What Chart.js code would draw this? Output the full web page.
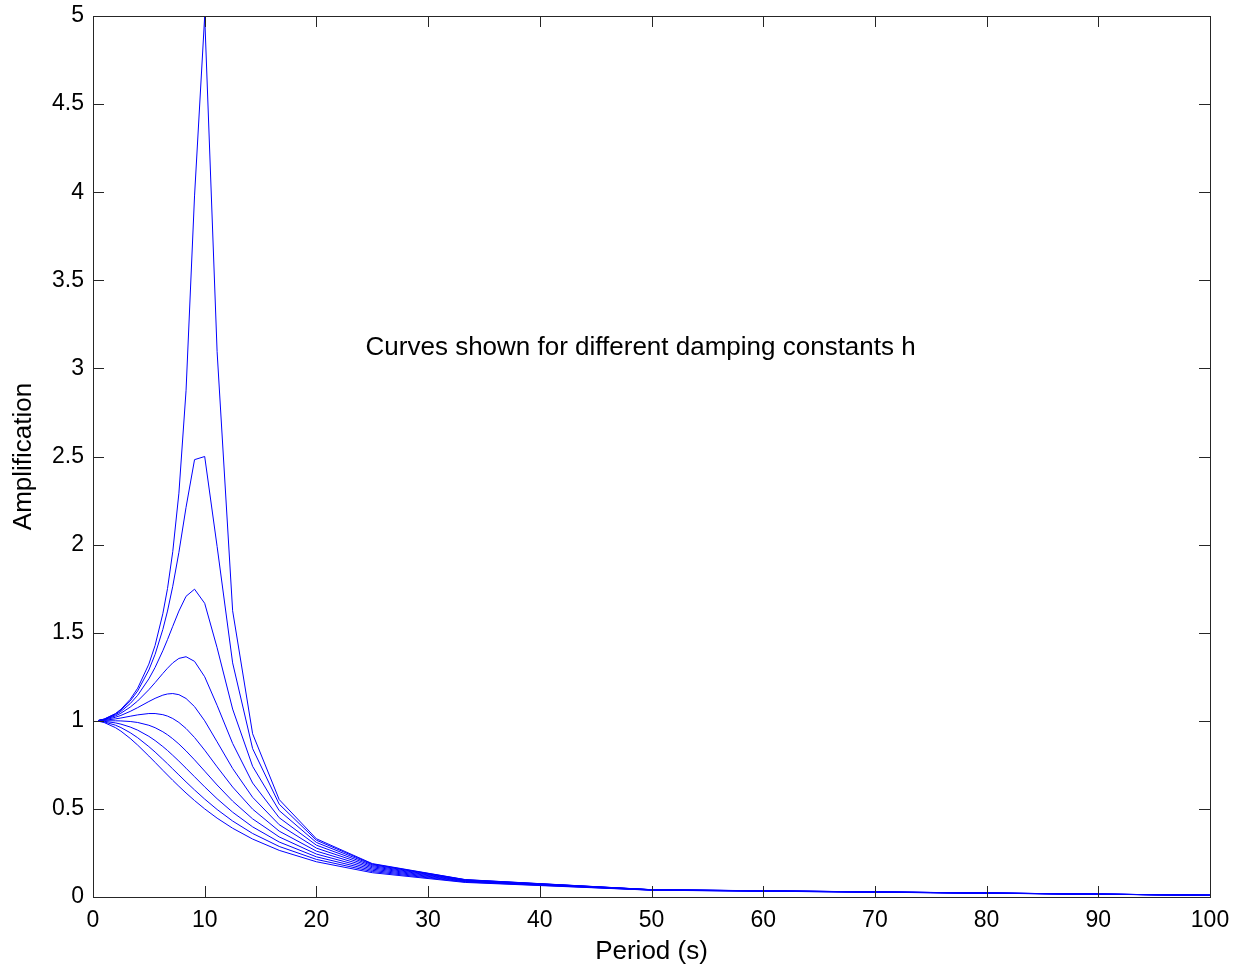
<!DOCTYPE html>
<html>
<head>
<meta charset="utf-8">
<script src="https://cdn.jsdelivr.net/npm/chart.js@4/dist/chart.umd.min.js"></script>
<style>
  html, body { margin: 0; padding: 0; background: #fff; }
  #wrap { width: 1234px; height: 967px; }
</style>
</head>
<body>
<div id="wrap"><canvas id="chart"></canvas></div>
<script>
// period samples (s)
const periods = [0.5, 1, 2, 2.5, 3.33, 4, 5, 5.56, 6.25, 6.67, 7.14, 7.69, 8.33, 9.09, 10, 11.11, 12.5, 14.29, 16.67, 20, 25, 33.33, 50, 100];

// one curve per damping constant h
const h01 = [1.0025, 1.0099, 1.0408, 1.0652, 1.1218, 1.1851, 1.3217, 1.4281, 1.6075, 1.7503, 1.96, 2.2919, 2.8731, 3.9789, 5.0, 3.0951, 1.6244, 0.9265, 0.5528, 0.3304, 0.1896, 0.0987, 0.0416, 0.0101];
const h02 = [1.0023, 1.0093, 1.0381, 1.0607, 1.1126, 1.1694, 1.2883, 1.377, 1.5182, 1.6228, 1.7636, 1.956, 2.2113, 2.4821, 2.5, 1.9897, 1.3287, 0.8422, 0.5267, 0.3221, 0.1871, 0.0981, 0.0415, 0.0101];
const h03 = [1.002, 1.0083, 1.0336, 1.0533, 1.0976, 1.1447, 1.238, 1.3029, 1.3976, 1.4608, 1.5365, 1.6228, 1.7066, 1.747, 1.6667, 1.4148, 1.0667, 0.7416, 0.4903, 0.3095, 0.1832, 0.097, 0.0413, 0.0101];
const h04 = [1.0017, 1.0068, 1.0275, 1.0432, 1.0776, 1.1125, 1.1765, 1.2167, 1.2686, 1.2985, 1.3287, 1.3541, 1.3636, 1.3374, 1.25, 1.0877, 0.8716, 0.6469, 0.45, 0.2941, 0.178, 0.0956, 0.0411, 0.0101];
const h05 = [1.0012, 1.005, 1.0198, 1.0307, 1.0534, 1.0748, 1.1094, 1.1275, 1.1456, 1.1523, 1.1546, 1.1483, 1.1267, 1.0805, 1.0, 0.8806, 0.7295, 0.5658, 0.4104, 0.2774, 0.172, 0.0939, 0.0408, 0.0101];
const h06 = [1.0007, 1.0028, 1.0106, 1.0159, 1.0259, 1.0336, 1.0412, 1.0412, 1.0348, 1.0267, 1.013, 0.9907, 0.9564, 0.9053, 0.8333, 0.7386, 0.6242, 0.4986, 0.3737, 0.2603, 0.1654, 0.092, 0.0404, 0.01];
const h07 = [1.0, 1.0002, 1.0, 0.9993, 0.9961, 0.9905, 0.9747, 0.9609, 0.9378, 0.9207, 0.8981, 0.8683, 0.8292, 0.7785, 0.7143, 0.6357, 0.544, 0.4435, 0.3409, 0.2437, 0.1585, 0.0898, 0.04, 0.01];
const h08 = [0.9993, 0.9972, 0.9882, 0.9811, 0.9647, 0.9469, 0.9119, 0.888, 0.8539, 0.8315, 0.8042, 0.7712, 0.731, 0.6826, 0.625, 0.5577, 0.4813, 0.3981, 0.312, 0.228, 0.1515, 0.0875, 0.0395, 0.01];
const h09 = [0.9984, 0.9938, 0.9753, 0.9616, 0.9325, 0.9039, 0.8536, 0.8226, 0.7816, 0.7562, 0.7268, 0.6927, 0.6532, 0.6077, 0.5556, 0.4966, 0.4312, 0.3605, 0.2868, 0.2134, 0.1446, 0.0851, 0.039, 0.0099];
const h10 = [0.9975, 0.9901, 0.9615, 0.9412, 0.9, 0.8621, 0.8, 0.7642, 0.7191, 0.6923, 0.6622, 0.6283, 0.5902, 0.5475, 0.5, 0.4475, 0.3902, 0.3289, 0.2647, 0.2, 0.1379, 0.0826, 0.0385, 0.0099];

const curves = [h01, h02, h03, h04, h05, h06, h07, h08, h09, h10];

const xTicks = [0, 10, 20, 30, 40, 50, 60, 70, 80, 90, 100];
const yTicks = [0, 0.5, 1, 1.5, 2, 2.5, 3, 3.5, 4, 4.5, 5];

const note = "Curves shown for different damping constants h";
const notePos = { x: 24.4, y: 3.118 };

const FONT = "'Liberation Sans', Arial, sans-serif";
const TICK_LEN = 11;

// MATLAB-style box with inward ticks on all four sides, plus the text note
const frame = {
  id: "frame",
  afterDraw(chart) {
    const { ctx, chartArea: a, scales: { x, y } } = chart;
    ctx.save();
    ctx.strokeStyle = "#262626";
    ctx.lineWidth = 1;
    ctx.strokeRect(Math.round(a.left) + 0.5, Math.round(a.top) + 0.5,
      Math.round(a.right - a.left), Math.round(a.bottom - a.top));
    ctx.beginPath();
    xTicks.forEach(v => {
      const px = Math.round(x.getPixelForValue(v)) + 0.5;
      ctx.moveTo(px, a.bottom); ctx.lineTo(px, a.bottom - TICK_LEN);
      ctx.moveTo(px, a.top); ctx.lineTo(px, a.top + TICK_LEN);
    });
    yTicks.forEach(v => {
      const py = Math.round(y.getPixelForValue(v)) + 0.5;
      ctx.moveTo(a.left, py); ctx.lineTo(a.left + TICK_LEN, py);
      ctx.moveTo(a.right, py); ctx.lineTo(a.right - TICK_LEN, py);
    });
    ctx.stroke();

    ctx.fillStyle = "#000";
    ctx.font = "26px " + FONT;
    ctx.textAlign = "left";
    ctx.textBaseline = "middle";
    ctx.fillText(note, x.getPixelForValue(notePos.x), y.getPixelForValue(notePos.y));
    ctx.restore();
  }
};

new Chart(document.getElementById("chart"), {
  type: "line",
  data: {
    datasets: curves.map((vals, i) => ({
      label: "h = " + ((i + 1) / 10).toFixed(1),
      data: periods.map((p, j) => ({ x: p, y: vals[j] })),
      borderColor: "#0000ff",
      borderWidth: 1,
      pointRadius: 0,
      tension: 0,
      fill: false
    }))
  },
  options: {
    responsive: true,
    maintainAspectRatio: false,
    animation: false,
    layout: { padding: { left: 0, top: 16, right: 24, bottom: 0 } },
    plugins: { legend: { display: false }, tooltip: { enabled: false } },
    scales: {
      x: {
        type: "linear",
        min: 0,
        max: 100,
        afterBuildTicks: s => { s.ticks = xTicks.map(v => ({ value: v })); },
        afterFit: s => { s.height = 70; s.paddingLeft = 0; s.paddingRight = 0; },
        grid: { display: false, drawTicks: false },
        border: { display: false },
        ticks: { color: "#000", padding: 10, maxRotation: 0, font: { family: FONT, size: 23 }, callback: v => String(v) },
        title: { display: true, text: "Period (s)", color: "#000", padding: { top: 0, bottom: 0 }, font: { family: FONT, size: 26 } }
      },
      y: {
        min: 0,
        max: 5,
        afterBuildTicks: s => { s.ticks = yTicks.map(v => ({ value: v })); },
        afterFit: s => { s.width = 93; s.paddingTop = 0; s.paddingBottom = 0; },
        grid: { display: false, drawTicks: false },
        border: { display: false },
        ticks: { color: "#000", padding: 9, font: { family: FONT, size: 23 }, callback: v => String(v) },
        title: { display: true, text: "Amplification", color: "#000", padding: { top: 8, bottom: 0 }, font: { family: FONT, size: 26 } }
      }
    }
  },
  plugins: [frame]
});
</script>
</body>
</html>
